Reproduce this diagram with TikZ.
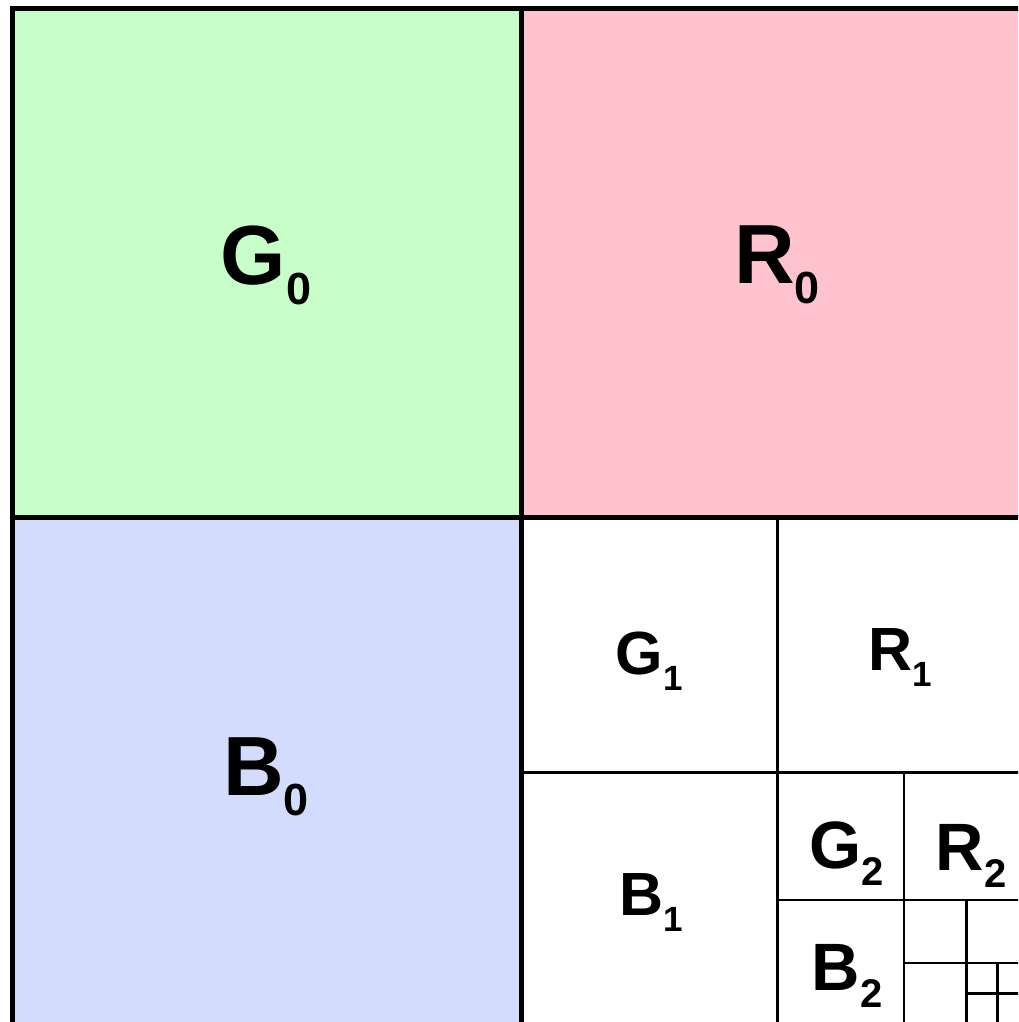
\documentclass[tikz,border=0pt]{standalone}
\usepackage{fontspec}
\setmainfont{Liberation Sans}
\definecolor{qgreen}{RGB}{200,255,200}
\definecolor{qpink}{RGB}{255,195,206}
\definecolor{qblue}{RGB}{211,220,253}
\newcommand\qlbl[5]{{\fontsize{#2}{#2}\selectfont\bfseries #1\raisebox{-#5pt}{\fontsize{#4}{#4}\selectfont #3}}}
\begin{document}
\begin{tikzpicture}[x=1pt,y=-1pt,
  thickline/.style={line width=5pt,black},
  thinline/.style={line width=2.5pt,black},
  lab/.style={inner sep=0pt,anchor=center}]
\useasboundingbox (0,0) rectangle (1018,1022);
\clip (0,0) rectangle (1018,1022);
% coloured quadrants
\fill[qgreen] (12.5,8.5) rectangle (521.5,517);
\fill[qpink] (521.5,8.5) rectangle (1040,517);
\fill[qblue] (12.5,517) rectangle (521.5,1040);
\fill[white] (521.5,517) rectangle (1040,1040);
% level 1
\draw[thinline] (777.5,517) -- (777.5,1040);
\draw[thinline] (521.5,772.5) -- (1040,772.5);
% level 2
\draw[thinline] (904,772.5) -- (904,1040);
\draw[thinline] (777.5,900) -- (1040,900);
% level 3
\draw[thinline] (966.5,900) -- (966.5,1040);
\draw[thinline] (904,963) -- (1040,963);
% level 4
\draw[thinline] (997.5,963) -- (997.5,1040);
\draw[thinline] (966.5,993.5) -- (1040,993.5);
% level 0 frame
\draw[thickline] (12.5,1040) -- (12.5,8.5) -- (1040,8.5);
\draw[thickline] (521.5,8.5) -- (521.5,1040);
\draw[thickline] (12.5,517) -- (1040,517);
% labels
\node[lab] (g0) at (266,265) {\qlbl{G}{84}{0}{45}{20}};
\node[lab] (r0) at (777,265) {\qlbl{R}{84}{0}{45}{20}};
\node[lab] (b0) at (266,777) {\qlbl{B}{84}{0}{45}{20}};
\node[lab] (g1) at (649,661) {\qlbl{G}{61}{1}{35}{16}};
\node[lab] (r1) at (900,658) {\qlbl{R}{61}{1}{35}{16}};
\node[lab] (b1) at (651,903) {\qlbl{B}{61}{1}{35}{16}};
\node[lab] (g2) at (847,854) {\qlbl{G}{67}{2}{40}{17}};
\node[lab] (r2) at (971,856) {\qlbl{R}{67}{2}{40}{17}};
\node[lab] (b2) at (847,976) {\qlbl{B}{67}{2}{40}{17}};
\end{tikzpicture}
\end{document}
